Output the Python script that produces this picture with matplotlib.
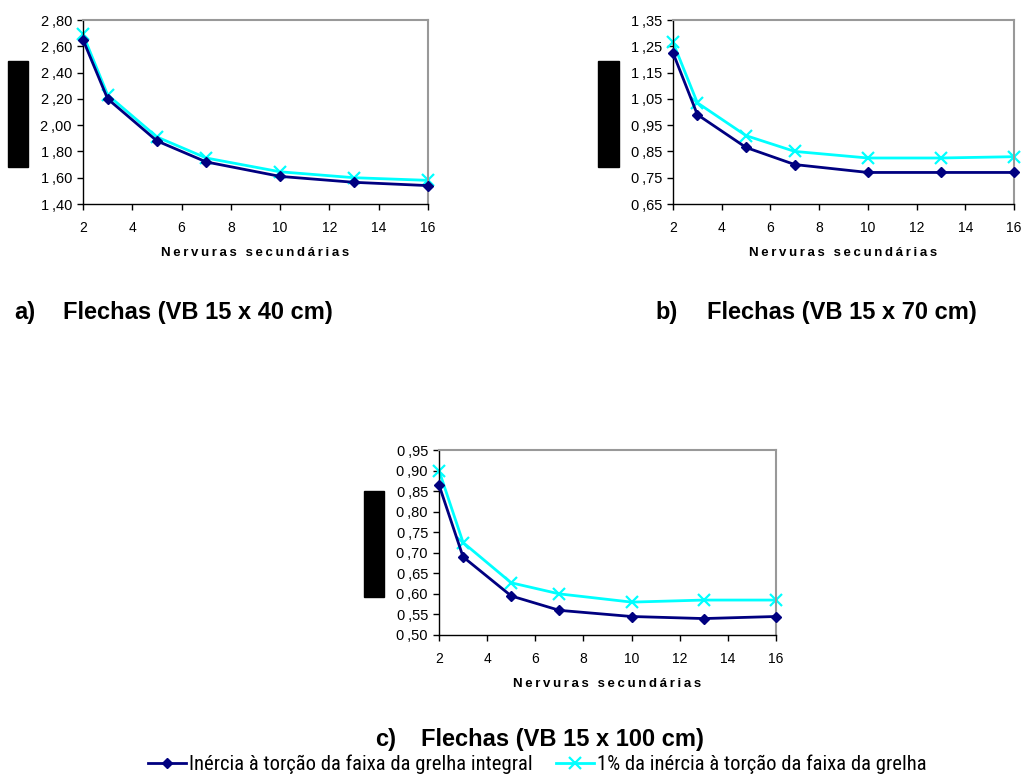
import matplotlib
matplotlib.use("Agg")
import matplotlib.pyplot as plt
from matplotlib import font_manager
from matplotlib.ticker import FuncFormatter, MultipleLocator
from matplotlib.patches import Rectangle
from matplotlib.lines import Line2D

x_nerv = [2, 3, 5, 7, 10, 13, 16]

a_integral = [2.65, 2.20, 1.88, 1.72, 1.61, 1.565, 1.54]
a_one_pct = [2.69, 2.23, 1.91, 1.75, 1.645, 1.60, 1.58]

b_integral = [1.225, 0.99, 0.865, 0.80, 0.77, 0.77, 0.77]
b_one_pct = [1.265, 1.035, 0.91, 0.85, 0.825, 0.825, 0.83]

c_integral = [0.865, 0.69, 0.595, 0.56, 0.545, 0.54, 0.545]
c_one_pct = [0.90, 0.725, 0.627, 0.60, 0.58, 0.585, 0.585]

series_labels = ["Inércia à torção da faixa da grelha integral",
                 "1% da inércia à torção da faixa da grelha"]
caption_tags = ["a)", "b)", "c)"]
caption_texts = ["Flechas (VB 15 x 40 cm)",
                 "Flechas (VB 15 x 70 cm)",
                 "Flechas (VB 15 x 100 cm)"]
xlabel = "Nervuras secundárias"

plt.rcParams['font.family'] = ['Liberation Sans', 'DejaVu Sans']

# pick the narrowest available sans for the legend
entries = font_manager.fontManager.ttflist
names = {f.name for f in entries}
narrow = None
for cand in ['Liberation Sans Narrow', 'Arial Narrow', 'Roboto Condensed',
             'Open Sans Condensed', 'DejaVu Sans Condensed']:
    if cand in names:
        narrow = dict(family=[cand, 'DejaVu Sans'])
        break
if narrow is None:
    cond = [f for f in entries if f.stretch in ('condensed', 'semi-condensed')
            and f.style == 'normal' and f.weight in (400, 'normal', 'regular')]
    if cond:
        narrow = dict(family=[cond[0].name, 'DejaVu Sans'], stretch=cond[0].stretch)
    else:
        narrow = dict(family=['Roboto', 'DejaVu Sans'])

W, H = 1023, 783
fig = plt.figure(figsize=(W / 100, H / 100), dpi=100)
renderer = fig.canvas.get_renderer()

def px_axes(l, t, r, b):
    return fig.add_axes([l / W, 1 - b / H, (r - l) / W, (b - t) / H])

fmt = FuncFormatter(lambda v, p: f"{v:.2f}".replace(".", "\u2009,"))
spaced = "\u2009".join(xlabel)

def draw(ax, y1, y2, ylim, ystep, yoff=0.0):
    ax.plot(x_nerv, y1, color='#000080', lw=2, marker='D', ms=5.5, zorder=3, clip_on=False)
    ax.plot(x_nerv, y2, color='#00FFFF', lw=2, marker='x', ms=8, mew=1.6, zorder=2, clip_on=False)
    ax.set_xlim(2, 16)
    ax.set_ylim(*ylim)
    ax.xaxis.set_major_locator(MultipleLocator(2))
    ax.yaxis.set_major_locator(MultipleLocator(ystep, offset=yoff))
    ax.yaxis.set_major_formatter(fmt)
    ax.tick_params(direction='out', length=4, width=1)
    ax.tick_params(axis='x', pad=8, labelsize=10)
    ax.tick_params(axis='y', pad=4, labelsize=10.5)
    for s in ('top', 'right'):
        ax.spines[s].set_color('#999999')
        ax.spines[s].set_linewidth(1.5)
    for s in ('left', 'bottom'):
        ax.spines[s].set_color('black')
        ax.spines[s].set_linewidth(1)
    ax.set_xlabel(spaced, fontsize=9.5, fontweight='bold', labelpad=9)

ax_a = px_axes(83, 20, 428, 204)
draw(ax_a, a_integral, a_one_pct, (1.40, 2.80), 0.20)
ax_b = px_axes(673, 20, 1014, 204)
draw(ax_b, b_integral, b_one_pct, (0.65, 1.35), 0.10, 0.05)
ax_c = px_axes(439, 450, 776, 635)
draw(ax_c, c_integral, c_one_pct, (0.50, 0.95), 0.05)

# redaction blocks
for (x0, y0, x1, y1) in [(8, 61, 28, 167), (598, 61, 619, 167), (364, 491, 384, 597)]:
    fig.add_artist(Rectangle((x0 / W, 1 - y1 / H), (x1 - x0) / W, (y1 - y0) / H,
                             transform=fig.transFigure, color='black'))

# captions (tag and title positioned separately, like the wide tab gap)
cap_pos = [(14, 63, 319), (655, 707, 319), (375, 421, 746)]
for tag, txt, (xt, xx, yb) in zip(caption_tags, caption_texts, cap_pos):
    fig.text(xt / W, 1 - yb / H, tag, fontsize=17, fontweight='bold', va='baseline', ha='left')
    fig.text(xx / W, 1 - yb / H, txt, fontsize=17, fontweight='bold', va='baseline', ha='left')

# legend: size the narrow font so the first label spans ~346 px
probe = fig.text(0, 0, series_labels[0], fontsize=14, **narrow)
wpx = probe.get_window_extent(renderer).width
probe.remove()
lfs = 14 * 346.0 / wpx
fpx = lfs * 100 / 72.0
handles = [Line2D([], [], color='#000080', lw=2, marker='D', ms=5.5),
           Line2D([], [], color='#00FFFF', lw=2, marker='x', ms=8, mew=1.6)]
prop = font_manager.FontProperties(size=lfs, **narrow)
fig.legend(handles, series_labels, loc='center left', bbox_to_anchor=(148 / W, 1 - 764 / H),
           ncol=2, frameon=False, prop=prop,
           handlelength=38 / fpx, handletextpad=3 / fpx, columnspacing=23 / fpx,
           borderpad=0, borderaxespad=0)

fig.savefig("out.png", dpi=100)
